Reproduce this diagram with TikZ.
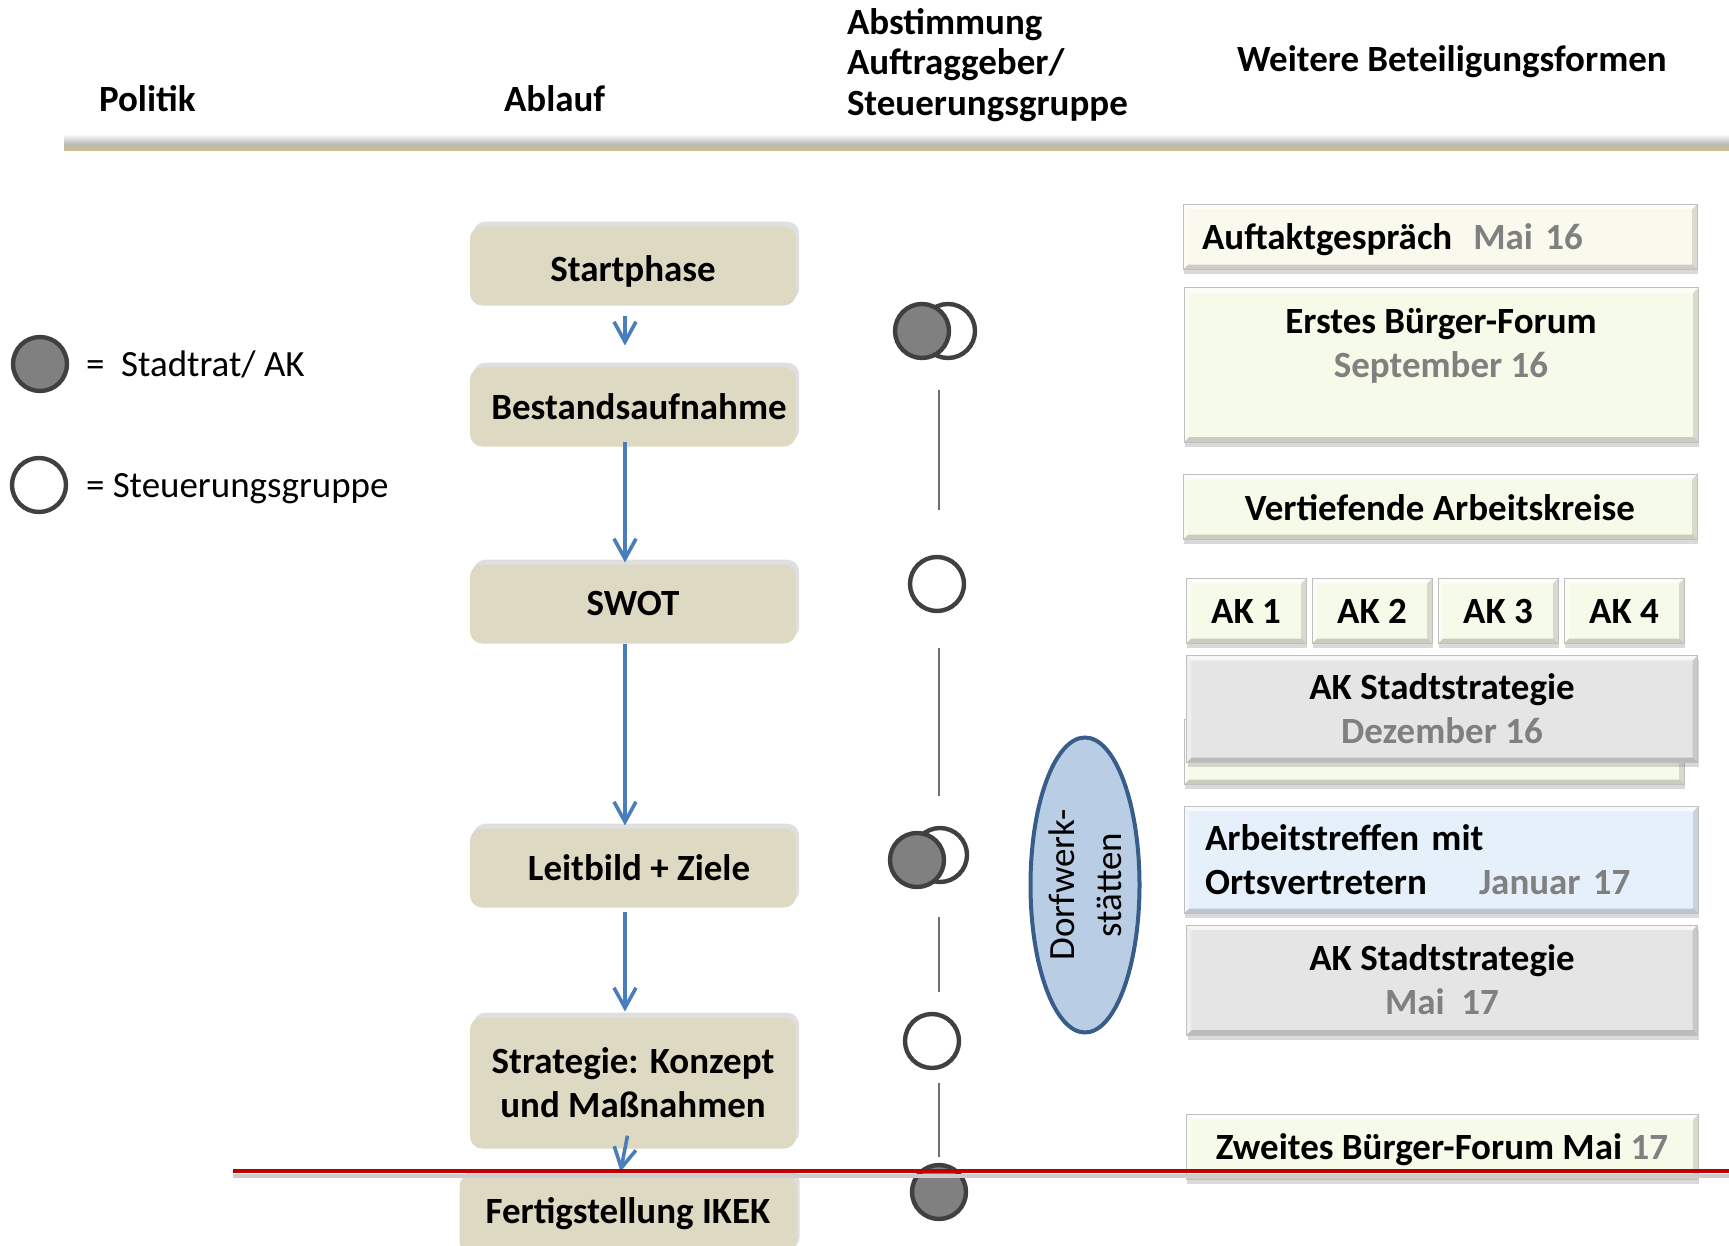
\documentclass[tikz,border=0pt]{standalone}
\usepackage{fontspec}
\setmainfont{Carlito}
\usepackage{tikz}
\usetikzlibrary{positioning}
\usetikzlibrary{shapes,arrows.meta,shadows,calc}
\definecolor{phasefill}{RGB}{221,217,195}
\definecolor{flowblue}{RGB}{74,126,187}
\definecolor{kreisgrau}{RGB}{128,128,128}
\definecolor{kreisrand}{RGB}{64,64,64}
\definecolor{taktlinie}{RGB}{110,110,110}
\definecolor{kopflinie}{RGB}{196,189,151}
\definecolor{endlinie}{RGB}{192,0,0}
\definecolor{datum}{RGB}{128,128,128}
\definecolor{creme}{RGB}{250,249,238}
\definecolor{hellgruen}{RGB}{246,250,233}
\definecolor{hellblau}{RGB}{230,240,251}
\definecolor{hellgrau}{RGB}{229,229,229}
\definecolor{dorffill}{RGB}{185,205,229}
\definecolor{dorfrand}{RGB}{56,93,138}
\newcommand{\phasewidth}{81.5mm}
\newcommand{\phaseheight}{19.75mm}
\newcommand{\formwidth}{128.5mm}
\newcommand{\formheight}{16.25mm}
\newcommand{\akwidth}{30mm}
\newcommand{\kreissize}{13.5mm}
\newcommand{\grossfont}{\fontsize{26.3}{31.3}\selectfont}

\begin{document}
\begin{tikzpicture}[x=0.25mm, y=-0.25mm, node distance=0mm, outer sep=0pt]
\tikzstyle{phase}=[
    rectangle,
    rounded corners=3mm,
    minimum height=\phaseheight,
    minimum width=\phasewidth,
    fill=phasefill,
    drop shadow={shadow xshift=0.8mm, shadow yshift=1.2mm, opacity=0.25},
    font=\grossfont\bfseries,
    align=center]
\tikzstyle{form}=[
    draw=black!25,
    line width=0.25mm,
    rectangle,
    minimum height=\formheight,
    minimum width=\formwidth,
    fill=hellgruen,
    drop shadow={shadow xshift=0.3mm, shadow yshift=-1.2mm, opacity=0.3},
    path picture={
      \fill[white, opacity=0.7] (path picture bounding box.north west) -- (path picture bounding box.north east)
        -- ([xshift=-1.2mm, yshift=-1.2mm]path picture bounding box.north east) -- ([xshift=1.2mm, yshift=-1.2mm]path picture bounding box.north west) -- cycle;
      \fill[black, opacity=0.12] (path picture bounding box.north east) -- (path picture bounding box.south east)
        -- ([xshift=-1.2mm, yshift=1.2mm]path picture bounding box.south east) -- ([xshift=-1.2mm, yshift=-1.2mm]path picture bounding box.north east) -- cycle;
      \fill[black, opacity=0.18] (path picture bounding box.south west) -- (path picture bounding box.south east)
        -- ([xshift=-1.2mm, yshift=1.2mm]path picture bounding box.south east) -- ([xshift=1.2mm, yshift=1.2mm]path picture bounding box.south west) -- cycle;
      \fill[white, opacity=0.4] (path picture bounding box.north west) -- (path picture bounding box.south west)
        -- ([xshift=1.2mm, yshift=1.2mm]path picture bounding box.south west) -- ([xshift=1.2mm, yshift=-1.2mm]path picture bounding box.north west) -- cycle;
    },
    font=\grossfont\bfseries,
    align=center]
\tikzstyle{politik}=[
    circle,
    draw=kreisrand,
    line width=1.1mm,
    fill=kreisgrau,
    minimum size=\kreissize,
    inner sep=0pt]
\tikzstyle{steuer}=[
    circle,
    draw=kreisrand,
    line width=1.1mm,
    fill=white,
    minimum size=\kreissize,
    inner sep=0pt]
\tikzstyle{kopf}=[
    anchor=west,
    inner sep=0pt,
    align=left,
    font=\fontsize{26.3}{28.8}\selectfont\bfseries]
\tikzstyle{flow}=[
    draw=flowblue,
    line width=0.9mm,
    -{Straight Barb[length=5mm, width=5.5mm]}]
\tikzstyle{takt}=[
    draw=taktlinie,
    line width=0.35mm]
\useasboundingbox (0,0) rectangle (1729,1246);

% column heads
\node[kopf] (politik) at(99,99) {Politik};
\node[kopf] (ablauf) at(504,99) {Ablauf};
\node[kopf] (abstimmung) at(847,65) {Abstimmung\\Auftraggeber/\\Steuerungsgruppe};
\node[kopf] (weitere) at(1237,62) {Weitere Beteiligungsformen};
\shade[top color=white, bottom color=black!30] (64,134) rectangle (1729,145);
\fill[kopflinie] (64,145) rectangle (1729,151);

% legend
\node[politik] (legpol) at(40,364) {};
\node[kopf, font=\grossfont] (legpoltext) at(86,364) {=\ \ Stadtrat/ AK};
\node[steuer] (legsteu) at(39,485) {};
\node[kopf, font=\grossfont] (legsteutext) at(86,489) {= Steuerungsgruppe};

% phases
\node[phase] (startphase) at(633,266) {\raisebox{-4mm}[0pt][0pt]{Startphase}};
\node[phase] (bestand) at(633,407) {\hspace*{3mm}Bestandsaufnahme};
\node[phase] (swot) at(633,604) {SWOT};
\node[phase] (leitbild) at(633,868) {\hspace*{3mm}Leitbild + Ziele};
\node[phase, minimum height=32.75mm] (strategie) at(633,1083) {Strategie: Konzept\\und Maßnahmen};
\node[phase, minimum width=84.25mm] (fertig) at(628,1214) {Fertigstellung IKEK};

\draw[flow, shorten <=2.5mm, shorten >=5.5mm] ([xshift=-2mm]startphase.south) -- ([xshift=-2mm]bestand.north);
\draw[flow, shorten <=-1.25mm, shorten >=0.5mm] ([xshift=-2mm]bestand.south) -- ([xshift=-2mm]swot.north);
\draw[flow, shorten >=0.75mm] ([xshift=-2mm]swot.south) -- ([xshift=-2mm]leitbild.north);
\draw[flow, shorten <=1mm, shorten >=1.5mm] ([xshift=-2mm]leitbild.south) -- ([xshift=-2mm]strategie.north);
\draw[flow, shorten <=-3.25mm, shorten >=0.75mm] ([xshift=-2mm]strategie.south) -- ([xshift=-2mm]fertig.north);

% Abstimmung
\node[steuer] (p1s) at(948,331) {};
\node[politik] (p1f) at(922,331) {};
\node[steuer] (s1) at(937,584) {};
\node[steuer] (p2s) at(940,855) {};
\node[politik] (p2f) at(917,860) {};
\node[steuer] (s2) at(932,1041) {};
\node[politik] (f3) at(939,1192) {};

\draw[takt, shorten <=8mm, shorten >=11.75mm] (p1s.south -| f3.north) -- (s1.north -| f3.north);
\draw[takt, shorten <=9.25mm, shorten >=8mm] (s1.south -| f3.north) -- (p2s.north -| f3.north);
\draw[takt, shorten <=8.75mm, shorten >=5.5mm] (p2s.south -| f3.north) -- (s2.north -| f3.north);
\draw[takt, shorten <=3.75mm, shorten >=2mm] (s2.south -| f3.north) -- (f3.north);

\node[ellipse, draw=dorfrand, line width=1mm, fill=dorffill, minimum width=73.75mm, minimum height=27.25mm,
      inner sep=0pt, rotate=90, align=center, font=\fontsize{26.3}{33.4}\selectfont] (dorf) at(1085,885) {Dorfwerk-\\stätten};

% Beteiligungsformen
\node[form, fill=creme, text width=119mm, inner xsep=4.75mm, align=left, text depth=0pt] (auftakt) at(1440,237)
    {Auftaktgespräch\hspace{5.25mm}{\color{datum}Mai 16}};
\node[form, minimum height=38.5mm] (forum1) at(1441,365) {Erstes Bürger-Forum\\{\color{datum}September 16}\\[-3.5mm]\strut};
\node[form, text depth=0pt] (arbeitskreise) at(1440,507) {Vertiefende Arbeitskreise};
\node[form, minimum width=\akwidth] (ak1) at(1246,611) {AK 1};
\node[form, minimum width=\akwidth] (ak2) [right = 1.5mm of ak1] {AK 2};
\node[form, minimum width=\akwidth] (ak3) [right = 1.5mm of ak2] {AK 3};
\node[form, minimum width=\akwidth] (ak4) [right = 1.5mm of ak3] {AK 4};
\node[form, minimum width=125mm] (akdahinter) at(1434,752) {};
\node[form, fill=hellgrau, minimum width=127.75mm, minimum height=26.75mm] (stadt1) at(1442,709)
    {AK Stadtstrategie\\{\color{datum}Dezember 16}};
\node[form, fill=hellblau, minimum height=26.75mm, text width=118mm, inner xsep=5.25mm, align=left] (ortsvertreter) at(1441,860)
    {Arbeitstreffen mit\\Ortsvertretern\hspace{13mm}{\color{datum}Januar 17}};
\node[form, fill=hellgrau, minimum width=127.75mm, minimum height=27.5mm] (stadt2) at(1442,980)
    {AK Stadtstrategie\\{\color{datum}Mai\ \ 17}};
\node[form, minimum width=128mm, text depth=0pt] (forum2) at(1442,1147) {Zweites Bürger-Forum Mai {\color{datum}17}};

% end line
\draw[black!20, line width=0.8mm] (233,1176) -- (1729,1176);
\draw[endlinie, line width=1.2mm] (233,1171) -- (1729,1171);
\end{tikzpicture}
\end{document}
